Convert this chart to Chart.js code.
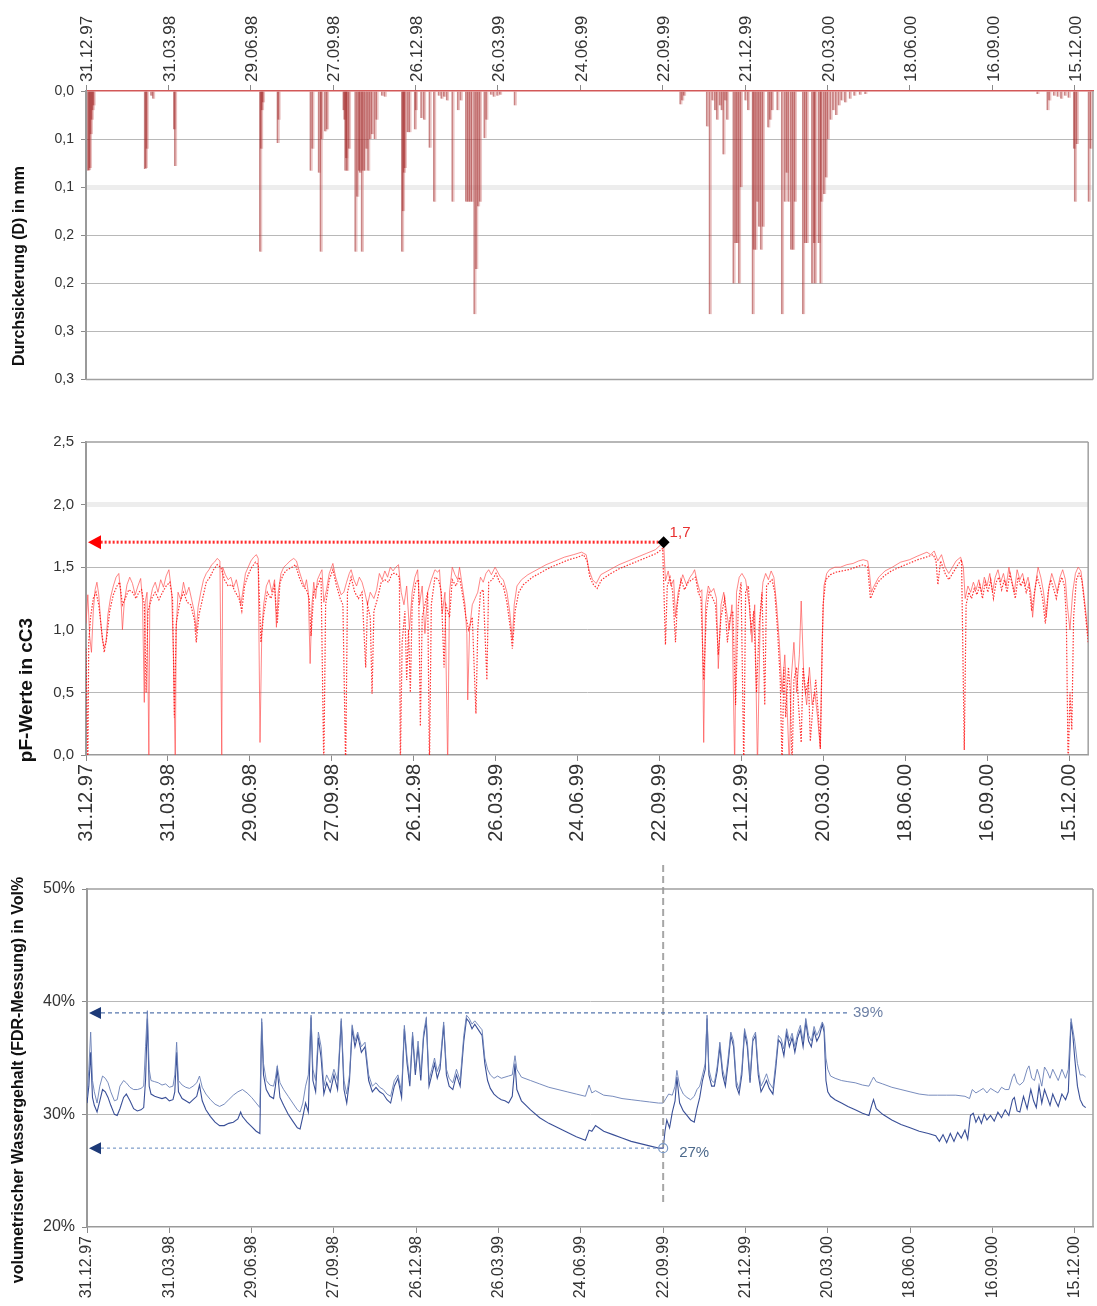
<!DOCTYPE html>
<html><head><meta charset="utf-8">
<script src="https://cdn.jsdelivr.net/npm/chart.js@4.4.1/dist/chart.umd.min.js"></script>
<style>
html,body{margin:0;padding:0;background:#fff;}
#wrap{position:relative;width:1097px;height:1306px;overflow:hidden;}
.c{position:absolute;left:0;width:1097px;}
</style></head><body>
<div id="wrap">
<div class="c" style="top:0;height:395px"><canvas id="c1"></canvas></div>
<div class="c" style="top:400px;height:460px"><canvas id="c2"></canvas></div>
<div class="c" style="top:860px;height:446px"><canvas id="c3"></canvas></div>
</div>
<script>
// ---------- axis / label data ----------
const tickDays = [0,90,180,270,360,450,540,630,720,810,900,990,1080];
const dateLabels = ['31.12.97','31.03.98','29.06.98','27.09.98','26.12.98','26.03.99','24.06.99','22.09.99','21.12.99','20.03.00','18.06.00','16.09.00','15.12.00'];
const X_MIN = 0, X_MAX = 1100;

const percTickValues = [0,0.05,0.1,0.15,0.2,0.25,0.3];
const percTickLabels = ['0,0','0,1','0,1','0,2','0,2','0,3','0,3'];
const pfTickValues = [0,0.5,1,1.5,2,2.5];
const pfTickLabels = ['0,0','0,5','1,0','1,5','2,0','2,5'];
const fdrTickValues = [20,30,40,50];
const fdrTickLabels = ['20%','30%','40%','50%'];

// ---------- series: [day since 31.12.97, value] ----------
const percolation = [
[3,0.083],[4,0.082],[5,0.08],[6,0.045],[7,0.03],[8,0.02],[9,0.015],
[65,0.081],[66,0.08],[67,0.06],[72,0.005],[74,0.008],
[97,0.04],[98,0.078],
[191,0.167],[192,0.06],[193,0.02],[194,0.012],
[210,0.054],[211,0.03],
[246,0.083],[248,0.06],
[255,0.085],[257,0.167],[258,0.05],[262,0.042],[264,0.04],
[282,0.02],[283,0.03],[284,0.083],[285,0.07],[286,0.083],[288,0.06],
[295,0.167],[297,0.11],[299,0.083],[300,0.085],[302,0.167],[303,0.083],[305,0.083],[307,0.06],[309,0.083],[311,0.05],[313,0.045],
[316,0.05],[318,0.03],[324,0.005],[327,0.006],
[346,0.167],[347,0.125],[348,0.085],[349,0.08],
[352,0.043],[354,0.043],[360,0.04],[361,0.02],[367,0.028],[370,0.03],[376,0.059],[381,0.115],
[386,0.005],[389,0.008],[392,0.006],[395,0.01],
[401,0.115],[407,0.02],[410,0.01],
[416,0.115],[418,0.115],[420,0.115],[422,0.115],[425,0.232],[427,0.185],[429,0.12],[431,0.115],[436,0.049],[438,0.03],
[443,0.004],[446,0.006],[450,0.005],[453,0.004],[469,0.015],
[650,0.014],[652,0.01],[654,0.005],
[679,0.037],[682,0.232],[685,0.01],[688,0.02],[690,0.03],[693,0.015],[695,0.02],[697,0.066],[699,0.01],[701,0.03],
[708,0.2],[710,0.158],[712,0.158],[714,0.2],[716,0.1],[721,0.01],[724,0.02],
[729,0.232],[730,0.165],[732,0.165],[734,0.115],[736,0.141],[738,0.165],[740,0.141],
[746,0.038],[748,0.03],[750,0.02],[756,0.02],[761,0.232],[764,0.115],[766,0.085],[768,0.115],
[771,0.165],[773,0.165],[775,0.115],[784,0.232],[786,0.158],[788,0.158],
[794,0.2],[796,0.158],[797,0.2],[801,0.158],[803,0.2],[804,0.115],
[807,0.107],[809,0.09],[811,0.05],[814,0.03],[817,0.02],[820,0.025],[823,0.015],[826,0.01],[830,0.012],[835,0.008],[840,0.005],[846,0.004],[852,0.003],
[1040,0.003],[1051,0.02],[1053,0.01],[1058,0.005],[1062,0.006],[1066,0.008],[1070,0.005],[1074,0.007],
[1080,0.06],[1081,0.115],[1083,0.055],[1096,0.115],[1098,0.06]
];

const pfSensor1 = [
[0,1.05],[2,1.28],[4,0.95],[6,0.82],[8,1.15],[10,1.32],[12,1.38],[14,1.28],[16,1.08],[18,0.92],[20,0.86],[22,0.9],[24,1.12],[27,1.26],[30,1.35],[33,1.42],[36,1.45],[38,1.3],[40,1.0],[42,1.22],[45,1.36],[48,1.42],[51,1.37],[54,1.28],[57,1.35],[60,1.41],[62,1.24],[64,0.42],[65,1.22],[67,1.3],[69,0.0],[70,1.22],[73,1.33],[76,1.38],[79,1.3],[82,1.4],[85,1.34],[88,1.43],[91,1.48],[94,1.3],[96,0.8],[98,-0.1],[99,1.0],[101,1.3],[104,1.24],[107,1.38],[110,1.28],[113,1.34],[116,1.24],[119,1.14],[121,0.98],[123,1.18],[126,1.3],[129,1.4],[132,1.45],[135,1.48],[138,1.52],[141,1.54],[144,1.57],[147,1.55],[149,0.0],[150,1.5],[153,1.44],[156,1.4],[159,1.42],[162,1.34],[165,1.4],[168,1.3],[170,1.2],[172,1.3],[175,1.45],[178,1.5],[181,1.55],[184,1.58],[187,1.6],[189,1.57],[191,0.1],[193,1.0],[195,1.2],[198,1.35],[201,1.4],[204,1.3],[207,1.4],[209,1.02],[211,1.3],[214,1.45],[217,1.5],[220,1.52],[224,1.55],[228,1.57],[231,1.55],[234,1.47],[237,1.4],[240,1.34],[242,1.4],[244,1.3],[246,0.73],[248,1.2],[250,1.38],[252,1.25],[254,1.4],[257,1.45],[259,1.48],[261,1.22],[264,1.32],[267,1.45],[271,1.53],[274,1.42],[277,1.35],[280,1.28],[283,1.3],[286,1.38],[289,1.45],[291,1.48],[294,1.4],[297,1.35],[300,1.42],[303,1.38],[306,1.3],[309,1.2],[312,1.3],[316,1.25],[319,1.32],[322,1.45],[325,1.4],[328,1.47],[331,1.42],[334,1.5],[337,1.47],[340,1.5],[343,1.52],[346,1.3],[349,1.2],[352,1.35],[355,1.0],[358,1.3],[361,1.42],[364,1.48],[366,1.2],[369,1.35],[372,0.97],[375,1.3],[379,1.4],[383,1.48],[386,1.46],[388,1.48],[391,1.13],[394,1.3],[397,-0.1],[399,1.3],[402,1.5],[405,1.44],[408,1.4],[410,1.5],[413,1.35],[416,1.2],[418,0.97],[419,0.44],[421,1.0],[424,1.2],[427,1.25],[430,1.3],[433,1.42],[436,1.38],[439,1.45],[442,1.48],[445,1.44],[449,1.5],[452,1.46],[455,1.42],[458,1.4],[462,1.3],[465,1.15],[468,0.92],[470,1.2],[473,1.35],[478,1.4],[485,1.44],[495,1.48],[505,1.52],[515,1.55],[525,1.58],[535,1.6],[544,1.62],[549,1.6],[552,1.48],[556,1.4],[560,1.37],[565,1.44],[575,1.48],[585,1.52],[595,1.55],[605,1.58],[615,1.61],[625,1.64],[634,1.7],[636,1.39],[639,1.47],[642,1.35],[645,1.4],[647,1.1],[650,1.3],[655,1.44],[659,1.36],[663,1.42],[666,1.45],[668,1.48],[671,1.38],[674,1.3],[676,1.32],[678,0.1],[680,1.2],[683,1.35],[686,1.3],[689,1.33],[692,1.25],[694,0.69],[697,1.2],[700,1.3],[703,1.15],[706,1.0],[709,1.2],[712,-0.1],[714,1.3],[717,1.42],[720,1.45],[724,1.4],[728,1.2],[731,0.9],[734,1.2],[737,-0.1],[740,1.1],[743,1.38],[746,1.45],[749,1.4],[752,1.47],[755,1.42],[758,1.2],[761,0.9],[764,0.5],[767,0.8],[770,0.3],[772,-0.1],[774,0.6],[777,0.9],[780,0.5],[783,0.8],[785,1.23],[788,0.6],[791,0.4],[794,0.7],[797,0.4],[800,0.5],[803,0.3],[806,0.05],[808,0.9],[810,1.35],[813,1.45],[816,1.48],[822,1.5],[828,1.5],[835,1.52],[842,1.53],[848,1.55],[853,1.56],[858,1.55],[860,1.45],[862,1.3],[865,1.35],[870,1.42],[877,1.47],[885,1.5],[894,1.54],[904,1.56],[913,1.59],[923,1.62],[927,1.6],[931,1.63],[935,1.55],[939,1.6],[943,1.5],[947,1.45],[951,1.5],[955,1.55],[960,1.58],[963,1.5],[965,1.25],[968,1.35],[971,1.3],[974,1.38],[977,1.32],[980,1.4],[983,1.3],[986,1.42],[989,1.35],[992,1.45],[995,1.3],[998,1.42],[1001,1.48],[1004,1.38],[1007,1.45],[1010,1.35],[1013,1.5],[1016,1.4],[1019,1.3],[1022,1.48],[1025,1.4],[1028,1.45],[1031,1.35],[1034,1.42],[1037,1.3],[1039,1.1],[1042,1.35],[1045,1.5],[1048,1.42],[1051,1.3],[1054,1.1],[1057,1.35],[1060,1.45],[1063,1.38],[1066,1.3],[1069,1.42],[1072,1.48],[1075,1.4],[1077,1.2],[1080,1.0],[1083,1.3],[1086,1.45],[1089,1.5],[1092,1.47],[1095,1.3],[1098,1.1],[1100,0.95]
];

const pfSensor2 = [
[0,0.85],[2,-0.1],[3,0.9],[5,1.1],[8,1.25],[11,1.3],[14,1.2],[17,1.0],[20,0.82],[23,0.95],[26,1.15],[30,1.28],[34,1.35],[37,1.38],[40,1.2],[43,1.25],[47,1.32],[51,1.3],[55,1.25],[58,1.3],[61,1.32],[64,1.2],[66,0.5],[68,1.15],[72,1.25],[76,1.3],[80,1.24],[84,1.3],[88,1.35],[92,1.38],[95,1.25],[97,0.3],[99,1.05],[103,1.22],[107,1.3],[111,1.22],[115,1.2],[119,1.08],[121,0.9],[124,1.12],[128,1.25],[132,1.38],[136,1.42],[140,1.48],[144,1.52],[148,1.5],[152,1.4],[156,1.35],[160,1.36],[164,1.3],[168,1.25],[171,1.15],[174,1.35],[178,1.44],[182,1.5],[186,1.54],[189,1.52],[192,0.9],[195,1.12],[199,1.3],[203,1.25],[207,1.35],[210,1.05],[213,1.38],[217,1.45],[221,1.48],[226,1.5],[230,1.52],[234,1.42],[238,1.35],[242,1.32],[245,1.25],[247,0.95],[250,1.3],[254,1.35],[258,1.42],[261,-0.1],[263,1.2],[267,1.4],[271,1.48],[275,1.35],[279,1.25],[282,1.2],[284,0.33],[285,-0.1],[287,1.3],[291,1.42],[295,1.3],[299,1.25],[303,1.3],[307,0.7],[309,1.2],[312,1.1],[314,0.49],[316,1.15],[320,1.25],[324,1.38],[328,1.4],[332,1.38],[336,1.45],[340,1.45],[344,1.42],[345,-0.1],[347,0.9],[350,1.15],[352,0.6],[354,1.0],[356,0.5],[358,1.2],[362,1.38],[365,1.4],[367,0.23],[369,1.1],[372,1.2],[375,1.3],[377,-0.1],[379,1.2],[383,1.42],[387,1.4],[390,1.3],[393,0.7],[395,1.2],[399,1.1],[402,1.4],[406,1.35],[410,1.42],[414,1.25],[417,1.1],[420,1.0],[424,1.1],[428,0.33],[430,1.0],[433,1.3],[436,1.32],[440,0.6],[442,1.38],[446,1.4],[450,1.45],[454,1.38],[458,1.35],[462,1.22],[466,1.0],[468,0.85],[471,1.15],[475,1.3],[480,1.36],[490,1.42],[500,1.46],[510,1.5],[520,1.53],[530,1.56],[540,1.58],[546,1.6],[550,1.55],[553,1.42],[557,1.36],[561,1.33],[566,1.4],[576,1.45],[586,1.49],[596,1.52],[606,1.55],[616,1.58],[626,1.61],[633,1.65],[636,0.88],[638,1.35],[641,1.42],[644,1.3],[647,0.9],[649,1.2],[653,1.4],[657,1.32],[661,1.38],[665,1.4],[669,1.42],[672,1.3],[675,1.25],[678,0.6],[681,1.15],[684,1.3],[688,1.25],[691,1.2],[694,0.8],[697,1.1],[701,1.25],[704,0.9],[707,1.1],[710,1.15],[713,0.4],[716,1.2],[719,1.38],[722,-0.1],[724,1.3],[727,1.35],[730,1.0],[733,1.15],[736,0.5],[739,1.05],[742,1.3],[745,0.4],[747,1.35],[750,1.38],[753,1.4],[756,1.3],[759,1.0],[762,0.6],[764,-0.1],[766,0.7],[768,0.3],[771,0.7],[773,0.5],[775,-0.1],[777,0.6],[780,0.7],[782,0.4],[785,0.1],[787,0.7],[790,0.5],[793,0.6],[795,0.11],[798,0.4],[801,0.6],[804,0.3],[806,0.05],[809,1.2],[812,1.4],[817,1.44],[823,1.46],[830,1.47],[837,1.48],[845,1.5],[853,1.52],[858,1.5],[861,1.25],[864,1.3],[869,1.38],[876,1.43],[884,1.47],[893,1.5],[903,1.53],[913,1.56],[922,1.58],[930,1.6],[933,1.55],[935,1.36],[938,1.55],[943,1.45],[947,1.4],[952,1.46],[957,1.52],[961,1.56],[964,0.04],[966,1.2],[969,1.3],[972,1.25],[975,1.33],[978,1.28],[981,1.36],[984,1.25],[987,1.38],[990,1.3],[993,1.4],[996,1.25],[999,1.38],[1002,1.42],[1005,1.32],[1008,1.4],[1011,1.3],[1014,1.45],[1017,1.35],[1020,1.25],[1023,1.42],[1026,1.35],[1029,1.4],[1032,1.3],[1035,1.36],[1038,1.15],[1041,1.3],[1044,1.42],[1047,1.35],[1050,1.25],[1053,1.05],[1056,1.3],[1059,1.4],[1062,1.33],[1065,1.25],[1068,1.36],[1071,1.42],[1074,1.35],[1076,1.1],[1078,-0.1],[1080,0.5],[1082,0.2],[1084,1.1],[1087,1.4],[1090,1.45],[1093,1.4],[1096,1.2],[1100,0.9]
];

const fdrUpper = [
[0,31.5],[2,34],[4,37.3],[6,33],[8,32],[11,31],[14,32.5],[17,33.4],[20,33.2],[23,32.8],[26,32],[30,31.2],[33,31.3],[36,32.5],[40,33],[43,32.8],[47,32.4],[51,32.2],[55,32.2],[59,32.3],[62,32.5],[64,36],[66,39.2],[68,34],[70,33],[74,32.9],[78,32.8],[82,32.6],[86,32.7],[90,32.4],[94,32.5],[96,33.5],[98,36.4],[100,33],[104,32.6],[108,32.4],[112,32.3],[116,32.5],[120,32.8],[123,33.4],[126,32.4],[130,31.8],[135,31.3],[140,30.9],[145,30.7],[150,30.9],[155,31.3],[160,31.7],[165,32],[170,32.2],[175,31.9],[180,31.5],[185,31.0],[189,30.6],[191,38.5],[193,34.5],[196,33],[200,32.6],[204,32.5],[206,33.2],[208,34.3],[211,32.8],[215,32.2],[220,31.6],[225,31.0],[230,30.4],[233,30.2],[236,31],[239,32.5],[242,33.5],[245,38.8],[247,34],[250,33],[253,37.3],[256,36],[259,32.5],[262,33.5],[266,32.8],[270,34],[274,33],[278,38.5],[281,33],[284,31.8],[287,33.5],[290,37.9],[293,36.5],[296,37.3],[300,36],[304,36.4],[308,33.5],[312,32.5],[316,32.8],[320,32.4],[324,32.2],[328,31.8],[332,31.6],[336,33],[340,33.5],[344,32],[347,37.9],[350,35],[353,33],[356,37.3],[359,34],[362,36.5],[365,33.5],[368,37.2],[371,38.6],[374,33],[377,34],[380,35],[383,33.8],[386,34.5],[390,38.2],[393,34],[396,33.2],[400,32.8],[404,34],[408,33],[412,37],[415,38.8],[418,38.5],[421,38],[424,38.3],[428,37.9],[432,37.5],[435,35],[438,34],[441,33.5],[445,33.2],[449,33.4],[453,33.2],[457,33.3],[461,33.4],[465,33.5],[468,35.2],[470,34],[475,33.3],[485,33.0],[495,32.7],[505,32.4],[515,32.2],[525,32.0],[535,31.8],[545,31.6],[549,32.6],[552,31.9],[556,32.1],[565,31.7],[575,31.6],[585,31.4],[595,31.3],[605,31.2],[615,31.1],[625,31.0],[630,31.0],[633,31.4],[636,31.8],[640,31.7],[643,32.5],[645,33.9],[648,32.5],[652,31.8],[656,31.5],[660,31.3],[664,31.6],[667,32.2],[670,32.5],[673,33.5],[676,34.5],[678,38.8],[680,34],[683,33],[686,32.8],[689,34.2],[692,36.4],[695,34],[698,33],[701,35],[704,37.3],[707,36.5],[710,33],[713,32.2],[716,34],[719,37.6],[722,36.5],[725,33.2],[728,36.8],[731,37.3],[734,34],[737,32.5],[740,33],[743,33.6],[746,32.8],[750,32.3],[753,34.5],[756,37],[759,36.7],[762,35.8],[765,37.6],[768,36.5],[771,37.2],[774,36],[777,37.2],[780,37.9],[783,36.5],[786,38.5],[789,37],[792,36.5],[795,37.8],[798,37],[801,37.5],[804,38.2],[806,37.8],[808,35],[810,34],[813,33.4],[818,33.2],[825,33.0],[832,32.9],[840,32.8],[848,32.6],[855,32.5],[858,33.0],[860,33.3],[863,32.9],[870,32.7],[880,32.4],[890,32.2],[900,32.0],[910,31.8],[920,31.7],[930,31.7],[940,31.7],[950,31.7],[960,31.6],[965,31.4],[968,32.2],[972,31.9],[976,32.1],[980,32.3],[984,31.9],[988,32.3],[992,32.1],[996,31.9],[1000,32.4],[1004,32.2],[1008,32.2],[1012,33.3],[1014,33.6],[1017,32.8],[1020,32.6],[1024,32.9],[1028,34.0],[1030,34.3],[1033,33.2],[1036,33],[1039,34],[1041,33.5],[1044,32.5],[1047,34.2],[1050,33.8],[1053,33.2],[1056,34.0],[1059,33.5],[1062,33],[1066,34],[1070,33.2],[1073,34],[1076,38.5],[1078,37.5],[1080,36.5],[1083,34.5],[1086,33.5],[1089,33.5],[1092,33.3]
];

const fdrLower = [
[0,31],[2,32.5],[4,35.5],[6,31.5],[8,30.8],[11,30.2],[14,31.2],[17,32.2],[20,32],[23,31.5],[26,30.8],[30,30.0],[33,29.9],[36,30.5],[40,31.5],[43,31.8],[47,31.2],[51,30.5],[55,30.3],[59,30.4],[62,30.6],[64,33],[66,38.5],[68,32.5],[70,31.8],[74,31.6],[78,31.5],[82,31.4],[86,31.5],[90,31.2],[94,31.3],[96,32],[98,35.5],[100,32],[104,31.4],[108,31.2],[112,31.0],[116,31.3],[120,31.6],[123,32.6],[126,31.2],[130,30.4],[135,29.8],[140,29.3],[145,29.0],[150,29.0],[155,29.2],[160,29.3],[165,29.6],[168,30.2],[170,29.8],[175,29.3],[180,28.9],[185,28.5],[189,28.3],[191,38.2],[193,33.5],[196,32.2],[200,31.6],[204,31.4],[206,32.5],[208,34],[211,31.5],[215,30.8],[220,30.0],[225,29.4],[230,28.8],[233,28.7],[236,29.8],[239,31],[242,30.2],[245,38.6],[247,33],[250,32],[253,36.8],[256,35],[259,31.8],[262,32.8],[266,32],[270,33.5],[274,32.2],[278,38.3],[281,32.2],[284,31],[287,33],[290,37.6],[293,36],[296,37],[300,35.5],[304,36],[308,33],[312,32],[316,32.4],[320,32],[324,31.8],[328,31.3],[332,31],[336,32.5],[340,33.2],[344,31.5],[347,37.6],[350,34.5],[353,32.5],[356,37],[359,33.5],[362,36],[365,33],[368,36.8],[371,38.3],[374,32.5],[377,33.5],[380,34.5],[383,33.2],[386,34],[390,37.9],[393,33.5],[396,32.5],[400,32.2],[404,33.5],[408,32.5],[412,36.5],[415,38.5],[418,38.2],[421,37.6],[424,38],[428,37.5],[432,37],[435,34.5],[438,33],[441,32.3],[445,31.8],[449,31.5],[453,31.3],[457,31.2],[461,31.0],[465,31.6],[468,34.5],[470,32.2],[475,31.2],[485,30.4],[495,29.7],[505,29.2],[515,28.8],[525,28.4],[535,28.0],[545,27.7],[549,28.6],[552,28.5],[556,29.0],[565,28.5],[575,28.2],[585,27.9],[595,27.6],[605,27.4],[615,27.2],[625,27.0],[630,27.0],[632,28.5],[634,29.5],[637,28.8],[640,30.2],[643,31.2],[645,33.3],[648,31],[652,30.3],[656,29.9],[660,29.5],[664,29.3],[667,30.5],[670,31.5],[673,33],[676,34],[678,38.5],[680,33.5],[683,32.5],[686,32.5],[689,33.8],[692,36],[695,33.5],[698,32.5],[701,34.5],[704,37],[707,36],[710,32.5],[713,31.8],[716,33.5],[719,37.3],[722,36],[725,32.8],[728,36.5],[731,37],[734,33.5],[737,32],[740,32.5],[743,33],[746,32.3],[750,31.8],[753,34],[756,36.6],[759,36.3],[762,35.2],[765,37.2],[768,36],[771,36.8],[774,35.5],[777,36.8],[780,37.5],[783,36],[786,38.2],[789,36.5],[792,36],[795,37.4],[798,36.5],[801,37],[804,38],[806,37.3],[808,33],[810,32],[813,31.6],[818,31.3],[825,31.0],[832,30.7],[840,30.4],[848,30.1],[855,29.9],[858,30.8],[860,31.3],[863,30.5],[870,30.0],[880,29.5],[890,29.1],[900,28.8],[910,28.5],[920,28.3],[928,28.1],[932,27.6],[936,28.2],[940,27.5],[944,28.3],[948,27.6],[952,28.4],[956,27.9],[960,28.6],[963,27.8],[966,29.9],[969,30.1],[972,29.3],[975,29.8],[978,29.2],[981,30],[984,29.5],[988,29.9],[992,29.4],[996,30.2],[1000,29.7],[1004,30.4],[1008,29.9],[1012,31.3],[1014,31.5],[1017,30.3],[1020,30.2],[1024,31.6],[1028,30.5],[1032,32.2],[1035,31.2],[1038,30.6],[1041,32.5],[1044,31],[1047,32.2],[1050,31.5],[1053,30.8],[1056,31.8],[1059,31.2],[1062,30.7],[1066,31.8],[1070,31.3],[1073,32],[1076,38.2],[1078,37],[1080,35],[1083,32.5],[1086,31.3],[1089,30.8],[1092,30.6]
];

// annotation values
const pfMark = {day:634, value:1.7, label:'1,7'};
const fdrMaxMark = {day:630, lineEnd:831, value:39, label:'39%'};
const fdrMinMark = {day:630, value:27, label:'27%'};
const fdrVertical = {day:630, bottomValue:22};

// ---------- helpers ----------
const FONT = "'Liberation Sans', Arial, sans-serif";
const toXY = arr => arr.map(([x,y]) => ({x, y}));

function xAxis(pos, fontSize, height, labelOffset){
  return {
    type:'linear', position:pos, min:X_MIN, max:X_MAX, offset:false,
    afterBuildTicks: s => { s.ticks = tickDays.map(v => ({value:v})); },
    afterFit: s => { s.height = height; },
    ticks:{autoSkip:false, minRotation:90, maxRotation:90, padding:3, color:'#333', labelOffset:labelOffset || 0,
      font:{family:FONT, size:fontSize}, callback:(v,i) => dateLabels[i]},
    grid:{drawOnChartArea:false, drawTicks:true, offset:false, tickLength:6, color:'#8a8a8a', tickColor:'#8a8a8a'},
    border:{color:'#9a9a9a', width:1.5}
  };
}
function yAxis(values, labels, band, fontSize){
  return {
    afterBuildTicks: s => { s.ticks = values.map(v => ({value:v})); },
    afterFit: s => { s.width = 86; },
    ticks:{color:'#333', padding:7, font:{family:FONT, size:fontSize}, callback:(v,i) => labels[i]},
    grid:{
      color: c => { const v = c.tick && c.tick.value; if (v === values[0] || v === values[values.length-1]) return 'rgba(0,0,0,0)'; return v === band ? 'rgba(0,0,0,0.07)' : '#b8b8b8'; },
      lineWidth: c => (c.tick && c.tick.value === band) ? 5 : 1,
      tickColor:'#8a8a8a', tickLength:5, tickWidth:1
    },
    border:{color:'#9a9a9a', width:2}
  };
}

const sideTitle = {
  id:'sideTitle',
  afterDraw(chart, args, o){
    const ctx = chart.ctx;
    ctx.save();
    ctx.translate(o.x, o.y);
    ctx.rotate(-Math.PI/2);
    ctx.font = 'bold ' + o.size + 'px ' + FONT;
    ctx.fillStyle = '#111';
    ctx.textAlign = 'center'; ctx.textBaseline = 'middle';
    ctx.fillText(o.text, 0, 0);
    ctx.restore();
  }
};
const frame = {
  id:'frame',
  beforeDatasetsDraw(chart, args, o){
    const {ctx, chartArea:a} = chart;
    ctx.save();
    ctx.strokeStyle = '#a0a0a0'; ctx.lineWidth = 1.5;
    ctx.beginPath();
    (o.sides || []).forEach(s => {
      if (s === 'top'){ ctx.moveTo(a.left, a.top); ctx.lineTo(a.right, a.top); }
      if (s === 'bottom'){ ctx.moveTo(a.left, a.bottom); ctx.lineTo(a.right, a.bottom); }
      if (s === 'right'){ ctx.moveTo(a.right, a.top); ctx.lineTo(a.right, a.bottom); }
    });
    ctx.stroke();
    ctx.restore();
  }
};
function arrowLeft(ctx, xTip, y, color, len, half){
  ctx.save();
  ctx.setLineDash([]);
  ctx.fillStyle = color;
  ctx.beginPath();
  ctx.moveTo(xTip, y); ctx.lineTo(xTip + len, y - half); ctx.lineTo(xTip + len, y + half);
  ctx.closePath(); ctx.fill();
  ctx.restore();
}

const pfMarks = {
  id:'pfMarks',
  afterDatasetsDraw(chart){
    const {ctx, chartArea:a, scales:{x, y}} = chart;
    const px = x.getPixelForValue(pfMark.day), py = y.getPixelForValue(pfMark.value);
    ctx.save();
    ctx.strokeStyle = 'rgba(255,20,20,0.9)'; ctx.lineWidth = 3; ctx.setLineDash([2,2]);
    ctx.beginPath(); ctx.moveTo(px - 5, py); ctx.lineTo(a.left + 14, py); ctx.stroke();
    arrowLeft(ctx, a.left + 2, py, '#ff0000', 13, 7);
    ctx.setLineDash([]);
    ctx.fillStyle = '#000';
    ctx.beginPath(); ctx.moveTo(px, py - 6); ctx.lineTo(px + 6, py); ctx.lineTo(px, py + 6); ctx.lineTo(px - 6, py); ctx.closePath(); ctx.fill();
    ctx.fillStyle = '#e83030'; ctx.font = '15px ' + FONT; ctx.textAlign = 'left'; ctx.textBaseline = 'middle';
    ctx.fillText(pfMark.label, px + 6, py - 9);
    ctx.restore();
  }
};

const fdrMarks = {
  id:'fdrMarks',
  afterDatasetsDraw(chart){
    const {ctx, chartArea:a, scales:{x, y}} = chart;
    ctx.save();
    const vx = x.getPixelForValue(fdrVertical.day);
    ctx.strokeStyle = 'rgba(150,150,150,0.85)'; ctx.lineWidth = 2; ctx.setLineDash([7,4]);
    ctx.beginPath(); ctx.moveTo(vx, a.top - 24); ctx.lineTo(vx, y.getPixelForValue(fdrVertical.bottomValue)); ctx.stroke();
    const yMax = y.getPixelForValue(fdrMaxMark.value);
    ctx.strokeStyle = '#5777ad'; ctx.lineWidth = 1.2; ctx.setLineDash([4,3]);
    ctx.beginPath(); ctx.moveTo(a.left + 14, yMax); ctx.lineTo(x.getPixelForValue(fdrMaxMark.lineEnd), yMax); ctx.stroke();
    arrowLeft(ctx, a.left + 2, yMax, '#1d3a78', 12, 6);
    ctx.setLineDash([]);
    ctx.fillStyle = '#6d80a5'; ctx.font = '15px ' + FONT; ctx.textAlign = 'left'; ctx.textBaseline = 'middle';
    ctx.fillText(fdrMaxMark.label, x.getPixelForValue(fdrMaxMark.lineEnd) + 6, yMax);
    const mx = x.getPixelForValue(fdrMinMark.day), yMin = y.getPixelForValue(fdrMinMark.value);
    ctx.strokeStyle = '#7a9ac8'; ctx.lineWidth = 1.2; ctx.setLineDash([3,3]);
    ctx.beginPath(); ctx.moveTo(a.left + 14, yMin); ctx.lineTo(mx - 6, yMin); ctx.stroke();
    arrowLeft(ctx, a.left + 2, yMin, '#1d3a78', 12, 6);
    ctx.setLineDash([]);
    ctx.strokeStyle = '#7a9ac8'; ctx.lineWidth = 1.2;
    ctx.beginPath(); ctx.arc(mx, yMin, 4.5, 0, Math.PI*2); ctx.stroke();
    ctx.fillStyle = '#4d6a8c'; ctx.font = '15px ' + FONT;
    ctx.fillText(fdrMinMark.label, mx + 16, yMin + 5);
    ctx.restore();
  }
};

const common = {responsive:true, maintainAspectRatio:false, animation:false, events:[]};

// ---------- chart 1: percolation ----------
new Chart(document.getElementById('c1'), {
  type:'bar',
  data:{datasets:[{data:toXY(percolation), backgroundColor:'rgba(200,95,95,0.36)', borderColor:'rgba(150,25,25,0.5)', borderWidth:{left:1,right:0,top:0,bottom:0}, borderSkipped:false, barThickness:3, grouped:false}]},
  options:{...common,
    layout:{padding:{left:0, right:4, top:0, bottom:11}},
    plugins:{legend:{display:false}, tooltip:{enabled:false},
      sideTitle:{text:'Durchsickerung (D) in mm', x:20, y:266, size:16},
      frame:{sides:['right','bottom']}},
    scales:{
      x:{...xAxis('top', 17, 91, 22), border:{color:'rgba(205,70,70,0.9)', width:1.5}},
      y:{...yAxis(percTickValues, percTickLabels, 0.1, 14), reverse:true, min:0, max:0.3}
    }
  },
  plugins:[sideTitle, frame]
});

// ---------- chart 2: pF ----------
new Chart(document.getElementById('c2'), {
  type:'line',
  data:{datasets:[
    {data:toXY(pfSensor2), borderColor:'rgba(255,0,0,0.8)', borderWidth:1.2, borderDash:[1.5,1.5], pointRadius:0, tension:0},
    {data:toXY(pfSensor1), borderColor:'rgba(255,70,70,0.65)', borderWidth:1, pointRadius:0, tension:0}
  ]},
  options:{...common,
    layout:{padding:{left:0, right:2, top:42, bottom:5}},
    plugins:{legend:{display:false}, tooltip:{enabled:false},
      sideTitle:{text:'pF-Werte in cC3', x:27, y:290, size:19},
      frame:{sides:['top','right']}},
    scales:{
      x:xAxis('bottom', 20, 100),
      y:{...yAxis(pfTickValues, pfTickLabels, 2, 15), min:0, max:2.5}
    }
  },
  plugins:[sideTitle, frame, pfMarks]
});

// ---------- chart 3: FDR water content ----------
new Chart(document.getElementById('c3'), {
  type:'line',
  data:{datasets:[
    {data:toXY(fdrUpper), borderColor:'rgba(105,128,182,0.9)', borderWidth:1, pointRadius:0, tension:0},
    {data:toXY(fdrLower), borderColor:'rgba(35,60,140,0.9)', borderWidth:1.1, pointRadius:0, tension:0}
  ]},
  options:{...common,
    layout:{padding:{left:1, right:4, top:29, bottom:4}},
    plugins:{legend:{display:false}, tooltip:{enabled:false},
      sideTitle:{text:'volumetrischer Wassergehalt (FDR-Messung) in Vol%', x:19, y:220, size:16},
      frame:{sides:['top','right']}},
    scales:{
      x:xAxis('bottom', 16, 75),
      y:{...yAxis(fdrTickValues, fdrTickLabels, null, 16), min:20, max:50}
    }
  },
  plugins:[sideTitle, frame, fdrMarks]
});
</script>
</body></html>
